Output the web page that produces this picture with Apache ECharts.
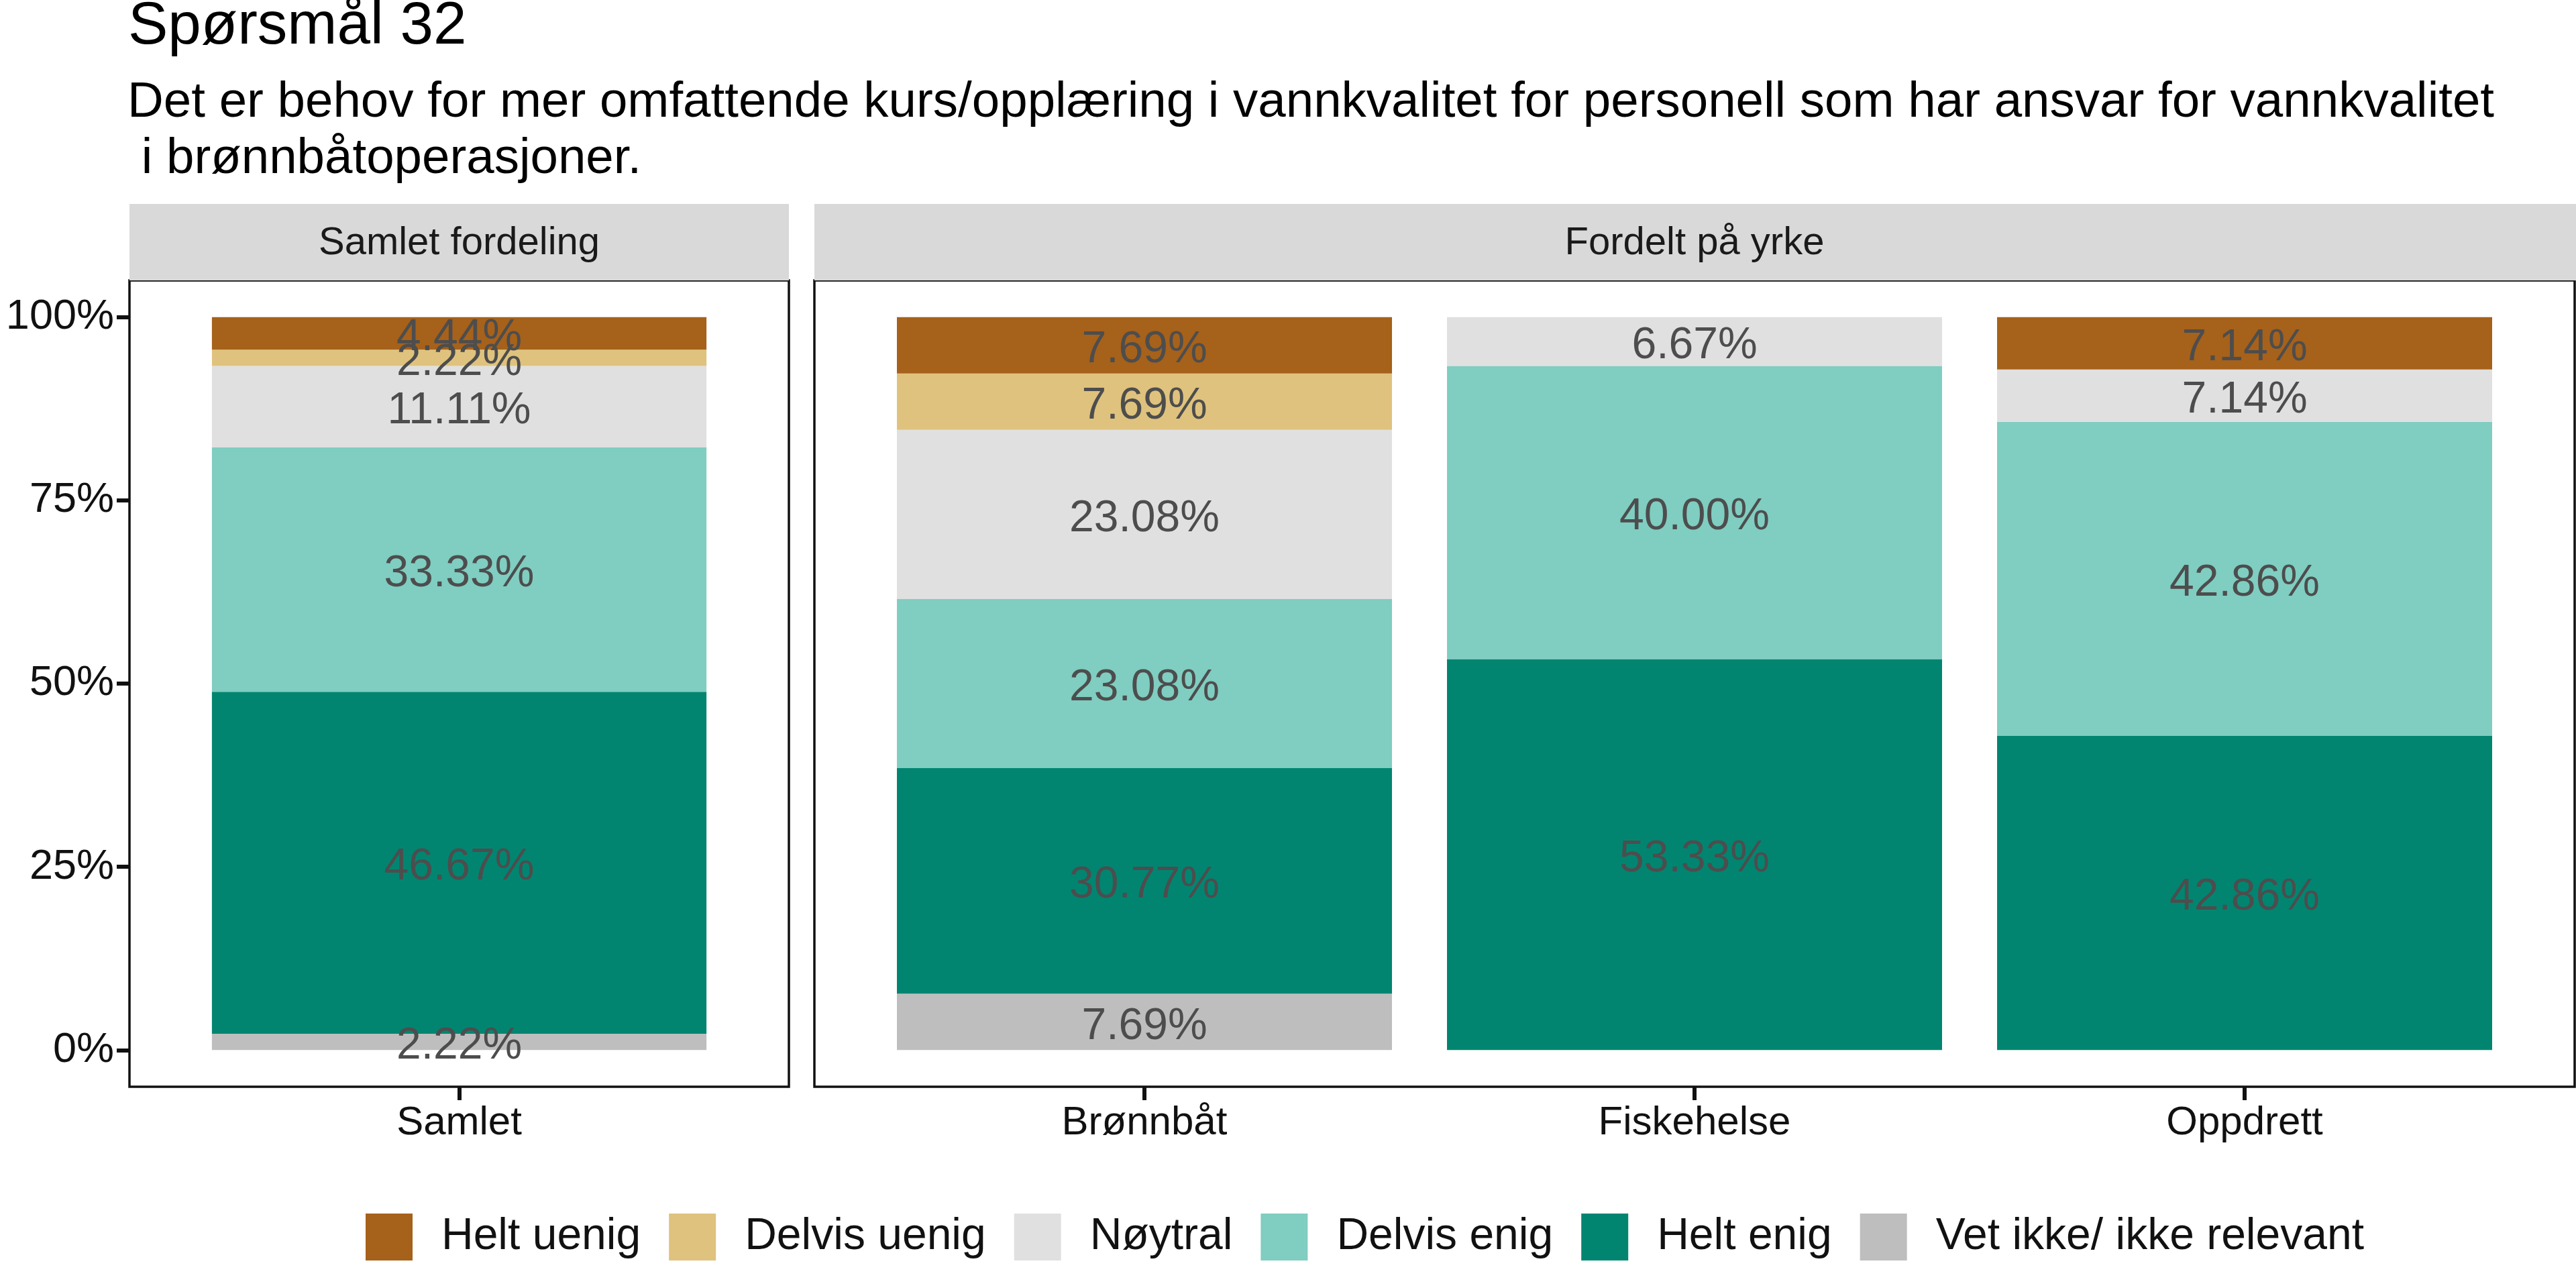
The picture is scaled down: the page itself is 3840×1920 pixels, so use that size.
<!DOCTYPE html>
<html>
<head>
<meta charset="utf-8">
<script src="https://cdn.jsdelivr.net/npm/echarts@6/dist/echarts.min.js"></script>
<style>html,body{margin:0;padding:0;background:#fff}#c{width:3840px;height:1920px}</style>
</head>
<body>
<div id="c"></div>
<script>
// ---- data ----
const panelTotalCats = ['Samlet'];
const panelJobCats = ['Brønnbåt', 'Fiskehelse', 'Oppdrett'];
const responses = ['Helt uenig', 'Delvis uenig', 'Nøytral', 'Delvis enig', 'Helt enig', 'Vet ikke/ ikke relevant'];
const responseColors = ['#A6611A', '#DFC27D', '#E0E0E0', '#80CDC1', '#018571', '#BEBEBE'];
// values: [Samlet, Brønnbåt, Fiskehelse, Oppdrett]
const heltUenig   = [4.44, 7.69, 0, 7.14];
const delvisUenig = [2.22, 7.69, 0, 0];
const noytral     = [11.11, 23.08, 6.67, 7.14];
const delvisEnig  = [33.33, 23.08, 40.00, 42.86];
const heltEnig    = [46.67, 30.77, 53.33, 42.86];
const vetIkke     = [2.22, 7.69, 0, 0];
const yTicks = [0, 25, 50, 75, 100];
const titleText = 'Spørsmål 32';
const subtitleLine1 = 'Det er behov for mer omfattende kurs/opplæring i vannkvalitet for personell som har ansvar for vannkvalitet';
const subtitleLine2 = ' i brønnbåtoperasjoner.';
const stripTexts = ['Samlet fordeling', 'Fordelt på yrke'];

// ---- build ----
const FONT = '"Liberation Sans", Arial, Helvetica, sans-serif';
const valuesByResponse = [heltUenig, delvisUenig, noytral, delvisEnig, heltEnig, vetIkke];
const stackOrder = [5, 4, 3, 2, 1, 0]; // bottom -> top
const TOP = 418, H = 1202;
const TICK = {color: '#111', width: 6};

// panels (frame) and inner category band areas (ggplot discrete expansion of 0.6 units)
const P = [
  {left: 193, width: 983, cats: panelTotalCats, offset: 0},
  {left: 1214, width: 2624, cats: panelJobCats, offset: 1}
];
P.forEach(p => {
  const unit = p.width / (p.cats.length + 0.2);
  p.bandLeft = p.left + 0.1 * unit;
  p.bandWidth = unit * p.cats.length;
});

const grids = [];
const xAxes = [];
const yAxes = [];
// frame grids 0,1
P.forEach((p, i) => {
  grids.push({left: p.left, top: TOP, width: p.width, height: H, show: true,
    borderColor: '#111', borderWidth: 3.5, backgroundColor: '#fff'});
  xAxes.push({type: 'value', gridIndex: i, show: false, min: 0, max: 1});
  yAxes.push({
    type: 'value', gridIndex: i, min: -5, max: 105, show: i === 0,
    axisLine: {show: false}, splitLine: {show: false},
    axisTick: {show: true, customValues: yTicks, length: 19, lineStyle: TICK},
    axisLabel: {show: true, customValues: yTicks, margin: 23, fontSize: 63, color: '#111', fontFamily: FONT,
      formatter: v => v + '%'}
  });
});
// bar grids 2,3
P.forEach((p, i) => {
  const gi = 2 + i;
  grids.push({left: p.bandLeft, top: TOP, width: p.bandWidth, height: H, show: false});
  xAxes.push({
    type: 'category', gridIndex: gi, data: p.cats, boundaryGap: true, position: 'bottom',
    axisLine: {show: false, onZero: false}, splitLine: {show: false},
    axisTick: {show: true, alignWithLabel: true, inside: false, length: 20, lineStyle: TICK},
    axisLabel: {show: true, margin: 24, fontSize: 60, color: '#111', fontFamily: FONT, interval: 0}
  });
  yAxes.push({type: 'value', gridIndex: gi, min: -5, max: 105, show: false, splitLine: {show: false}});
});

const series = [];
P.forEach((p, i) => {
  const gi = 2 + i;
  stackOrder.forEach(ri => {
    series.push({
      type: 'bar', name: responses[ri], xAxisIndex: gi, yAxisIndex: gi,
      stack: 'panel' + i, barWidth: '90%',
      itemStyle: {color: responseColors[ri]},
      label: {show: true, position: 'inside', offset: [0, 7], fontSize: 66, color: '#4D4D4D', fontFamily: FONT,
        textBorderWidth: 0,
        formatter: q => q.value > 0 ? Number(q.value).toFixed(2) + '%' : ''},
      emphasis: {disabled: true},
      data: p.cats.map((c, k) => valuesByResponse[ri][p.offset + k])
    });
  });
});

const txt = (text, x, y, size, fill, align) => ({
  type: 'text', x: x, y: y,
  style: {text: text, font: size + 'px ' + FONT, fill: fill,
    textAlign: align, textVerticalAlign: 'middle', align: align, verticalAlign: 'middle'}
});

const graphic = [
  {type: 'rect', shape: {x: P[0].left, y: 304, width: P[0].width, height: 114}, style: {fill: '#D9D9D9'}},
  {type: 'rect', shape: {x: P[1].left, y: 304, width: 3840 - P[1].left, height: 114}, style: {fill: '#D9D9D9'}},
  txt(stripTexts[0], P[0].left + P[0].width / 2, 363, 58, '#1A1A1A', 'center'),
  txt(stripTexts[1], P[1].left + P[1].width / 2, 363, 58, '#1A1A1A', 'center'),
  txt(titleText, 191, 40, 89, '#000', 'left'),
  txt(subtitleLine1, 190, 153, 74.5, '#000', 'left'),
  txt(subtitleLine2, 190, 237, 74.5, '#000', 'left')
];

const chart = echarts.init(document.getElementById('c'), null, {renderer: 'canvas'});
chart.setOption({
  backgroundColor: '#fff',
  animation: false,
  textStyle: {fontFamily: FONT},
  grid: grids,
  xAxis: xAxes,
  yAxis: yAxes,
  legend: {
    data: responses, left: 540, top: 1804, orient: 'horizontal',
    itemWidth: 70, itemHeight: 70, itemGap: 42, icon: 'rect', selectedMode: false,
    textStyle: {fontSize: 66, color: '#111', fontFamily: FONT, padding: [0, 0, 0, 38]}
  },
  graphic: graphic,
  series: series
});
</script>
</body>
</html>
